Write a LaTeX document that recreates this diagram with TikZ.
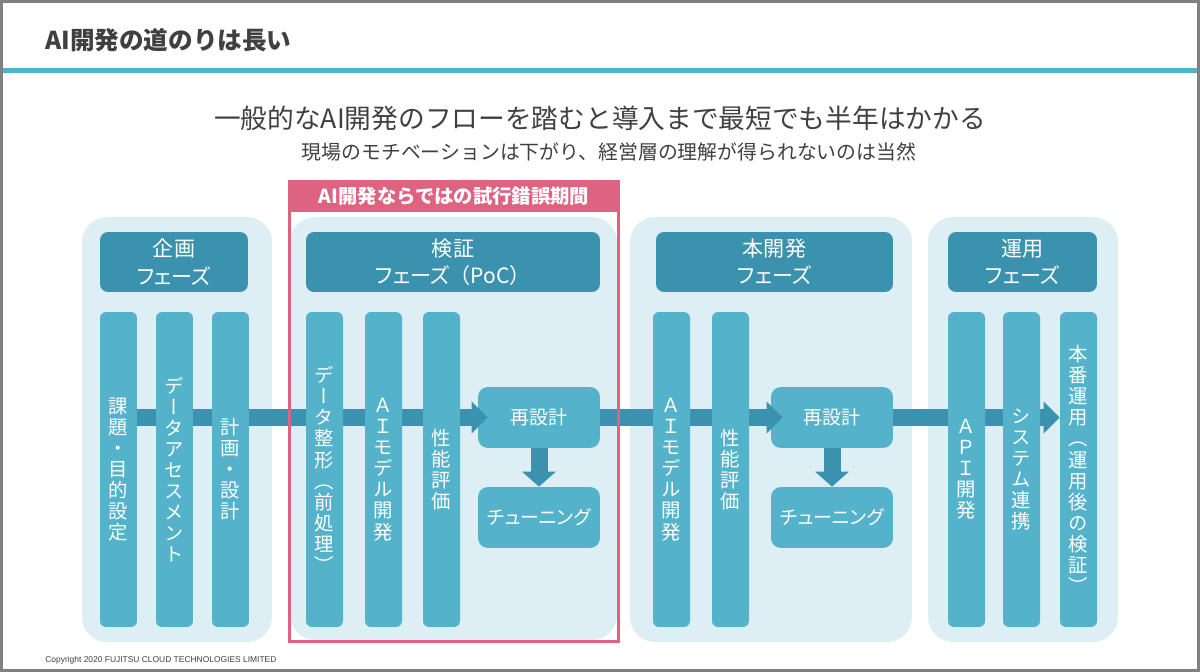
\documentclass[tikz,border=0pt]{standalone}
\usepackage{fontspec}
\setmainfont{Noto Sans CJK JP}
\newfontfamily\tate[RawFeature=+vert]{Noto Sans CJK JP}
\newfontfamily\prop[RawFeature=+palt]{Noto Sans CJK JP}
\newfontfamily\copyfont{Liberation Sans}
\usetikzlibrary{arrows.meta}
\definecolor{panelbg}{RGB}{221,238,244}
\definecolor{phasedark}{RGB}{59,146,174}
\definecolor{barteal}{RGB}{84,179,203}
\definecolor{rulecol}{RGB}{77,180,201}
\definecolor{trialpink}{RGB}{221,99,129}
\definecolor{textgray}{RGB}{64,64,64}
\definecolor{framegray}{RGB}{128,128,128}
\pgfdeclarelayer{panels}
\pgfdeclarelayer{band}
\pgfsetlayers{panels,band,main}

\begin{document}
\begin{tikzpicture}[x=0.02cm,y=-0.02cm,
  every node/.style={inner sep=0pt},
  panel/.style={fill=panelbg,rounded corners=0.5cm},
  phase/.style={fill=phasedark,rounded corners=0.16cm,text=white,align=center,
    minimum height=1.2cm,font=\fontsize{12}{15.5}\selectfont},
  task/.style={fill=barteal,rounded corners=0.12cm,text=white,align=center,
    minimum width=0.74cm,minimum height=6.3cm,font=\tate\fontsize{11}{12}\selectfont},
  redo/.style={fill=barteal,rounded corners=0.2cm,text=white,
    minimum width=2.44cm,minimum height=1.22cm,font=\fontsize{10.8}{12}\selectfont},
  flow/.style={draw=phasedark,line width=0.34cm},
  flowtip/.style={flow,-{Triangle[width=0.62cm,length=0.32cm]}},
  downtip/.style={flow,-{Triangle[width=0.66cm,length=0.3cm]}}
]
  \useasboundingbox (0,0) rectangle (1200,672);
  \draw[framegray,line width=0.06cm] (1.5,1.5) rectangle (1198.5,670.5);
  \fill[rulecol] (3,68) rectangle (1197,73);

  \node[anchor=west,text=textgray,font=\bfseries\fontsize{14}{17}\selectfont] (title) at (45,40)
    {AI開発の道のりは長い};
  \node[text=textgray,font=\fontsize{15.2}{18}\selectfont] (lead) at (600,118)
    {一般的なAI開発のフローを踏むと導入まで最短でも半年はかかる};
  \node[text=textgray,font=\fontsize{11.3}{14}\selectfont] (sub) at (609,152)
    {現場のモチベーションは下がり、経営層の理解が得られないのは当然};

  \begin{pgfonlayer}{panels}
    \fill[panel] (82,217) rectangle (272,642);
    \fill[panel] (290,217) rectangle (617,640);
    \fill[panel] (630,217) rectangle (912,642);
    \fill[panel] (928,217) rectangle (1118,642);
  \end{pgfonlayer}

  \node[phase,minimum width=2.96cm] (h1) at (174,262) {企画\\{\prop フェーズ}};
  \node[phase,minimum width=5.88cm] (h2) at (453,262) {検証\\{\prop フェーズ}（PoC）};
  \node[phase,minimum width=4.74cm] (h3) at (774.5,262) {本開発\\{\prop フェーズ}};
  \node[phase,minimum width=2.98cm] (h4) at (1022.5,262) {運用\\{\prop フェーズ}};

  \node[task] (p1a) at (118.5,469.5) {課\\題\\・\\目\\的\\設\\定};
  \node[task] (p1b) at (174.5,469.5) {デ\\ー\\タ\\ア\\セ\\ス\\メ\\ン\\ト};
  \node[task] (p1c) at (230.5,469.5) {計\\画\\・\\設\\計};

  \node[task] (p2a) at (324.5,469.5) {デ\\ー\\タ\\整\\形\\（\\前\\処\\理\\）};
  \node[task] (p2b) at (383.5,469.5) {Ａ\\Ｉ\\モ\\デ\\ル\\開\\発};
  \node[task] (p2c) at (441.5,469.5) {性\\能\\評\\価};
  \node[redo] (r2) at (539,417.5) {再設計};
  \node[redo] (t2) at (539,517.5) {\prop チューニング};

  \node[task] (p3a) at (671.5,469.5) {Ａ\\Ｉ\\モ\\デ\\ル\\開\\発};
  \node[task] (p3b) at (730.5,469.5) {性\\能\\評\\価};
  \node[redo] (r3) at (832,417.5) {再設計};
  \node[redo] (t3) at (832,517.5) {\prop チューニング};

  \node[task] (p4a) at (966.5,469.5) {Ａ\\Ｐ\\Ｉ\\開\\発};
  \node[task] (p4b) at (1021.5,469.5) {シ\\ス\\テ\\ム\\連\\携};
  \node[task] (p4c) at (1078.5,469.5) {本\\番\\運\\用\\（\\運\\用\\後\\の\\検\\証\\）};

  \begin{pgfonlayer}{band}
    \draw[flow] (p1a.east |- r2.west) -- (r2.west);
    \draw[flow] (r2.east) -- (p3b.east |- r3.west);
    \draw[flowtip] (r3.east) -- (p4c.west |- r3.east);
  \end{pgfonlayer}
  \draw[flowtip,shorten >=-0.2cm] (p2c.east |- r2.west) -- (r2.west);
  \draw[flowtip,shorten >=-0.24cm] (p3b.east |- r3.west) -- (r3.west);
  \draw[downtip] (r2) -- (t2);
  \draw[downtip] (r3) -- (t3);

  \node[fill=trialpink,text=white,font=\bfseries\fontsize{11}{13}\selectfont,
    minimum width=6.64cm,minimum height=0.64cm] (trial) at (454,196)
    {AI開発ならではの試行錯誤期間};
  \draw[trialpink,line width=0.06cm] (trial.north west) ++(1.5,1.5) rectangle (618.5,641.5);

  \node[anchor=west,text=textgray,font=\copyfont\fontsize{4.8}{6}\selectfont] (copy) at (45,660)
    {Copyright 2020 FUJITSU CLOUD TECHNOLOGIES LIMITED};
\end{tikzpicture}
\end{document}
